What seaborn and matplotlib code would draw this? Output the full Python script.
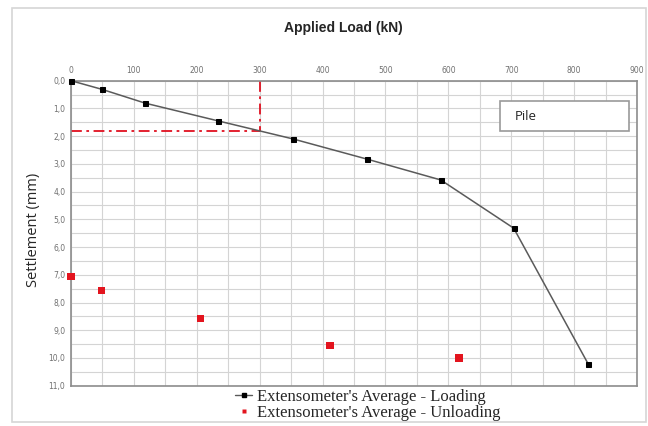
import pandas as pd
import numpy as np
import matplotlib
matplotlib.use('Agg')
import matplotlib.pyplot as plt
import seaborn as sns
from matplotlib.lines import Line2D
from matplotlib.patches import Rectangle

# data
load_kn = [0, 49, 118, 234, 353, 471, 588, 704, 822]
settle_load = [0.0, 0.31, 0.81, 1.45, 2.1, 2.83, 3.58, 5.32, 10.2]
unload_kn = [0, 49, 206, 412, 617]
settle_unload = [7.05, 7.57, 8.57, 9.54, 10.0]
ref_load = [300, 300]
ref_settle = [1.8, 1.8]

x_ticks = list(range(0, 901, 100))
y_ticks = list(range(0, 12))
y_labels = ['%d,0' % v for v in y_ticks]

df_load = pd.DataFrame({'load': load_kn, 'settle': settle_load})
df_unload = pd.DataFrame({'load': unload_kn, 'settle': settle_unload})

sns.set_style('white')
plt.rcParams['font.family'] = ['DejaVu Sans']

fig = plt.figure(figsize=(6.48, 4.26), dpi=100)
ax = fig.add_axes([71/648, 1-385.7/426, (637-71)/648, (385.7-80.7)/426])

# grid every 50 kN / 0.5 mm
ax.set_xticks(np.arange(0, 901, 50), minor=True)
ax.set_yticks(np.arange(0, 11.01, 0.5), minor=True)
ax.grid(True, which='both', color='#d4d4d4', lw=0.8)
ax.set_axisbelow(True)

sns.lineplot(data=df_load, x='load', y='settle', ax=ax, color='#5a5a5a', lw=1.1,
             marker='s', markersize=3.6, markerfacecolor='black', markeredgecolor='black',
             sort=False, zorder=3, clip_on=False)
sns.scatterplot(data=df_unload, x='load', y='settle', ax=ax, color='#e3141e', marker='s',
                s=27, edgecolor='none', zorder=3, clip_on=False)

# reference lines at 300 kN
ax.plot([ref_load[0], ref_load[1]], [0, ref_settle[0]], color='#e01020', lw=1.3,
        ls=(0, (6, 2.5, 1.5, 2.5)), zorder=2)
ax.plot([0, ref_load[0]], [ref_settle[0], ref_settle[1]], color='#e01020', lw=1.3,
        ls=(0, (6, 2.5, 1.5, 2.5)), zorder=2)

ax.set_xlim(0, 900)
ax.set_ylim(11, 0)
ax.xaxis.tick_top()
ax.set_xticks(x_ticks)
ax.set_xticklabels([str(v) for v in x_ticks])
ax.set_yticks(y_ticks)
ax.set_yticklabels(y_labels)
ax.tick_params(axis='both', which='both', length=0, labelsize=5.5, labelcolor='#707070', pad=4)
for s in ax.spines.values():
    s.set_color('#8c8c8c')
    s.set_linewidth(1.2)
ax.set_xlabel('')
ax.set_ylabel('')

fig.text(343/648, 1-28/426, 'Applied Load (kN)', ha='center', va='center',
         fontsize=10, fontweight='bold', family='Liberation Sans')
fig.text(33/648, 1-230/426, 'Settlement (mm)', rotation=90, ha='center', va='center',
         fontsize=10.5, family='Open Sans')

# Pile box
ax.add_patch(Rectangle((500/648, 1-131/426), 129/648, 30/426, transform=fig.transFigure,
                       facecolor='white', edgecolor='#9a9a9a', lw=1.2, zorder=5, clip_on=False))
fig.text(515/648, 1-116/426, 'Pile', ha='left', va='center', fontsize=9.5, family='Open Sans')

# outer frame
fig.patches.append(Rectangle((12/648, 1-422/426), 634/648, 414/426, transform=fig.transFigure,
                             facecolor='none', edgecolor='#d6d6d6', lw=1.2))

handles = [Line2D([], [], color='#5a5a5a', lw=1, marker='s', markersize=3,
                  markerfacecolor='black', markeredgecolor='black'),
           Line2D([], [], color='none', marker='s', markersize=3.5,
                  markerfacecolor='#e3141e', markeredgecolor='none')]
fig.legend(handles, ["Extensometer's Average - Loading", "Extensometer's Average - Unloading"],
           loc='center', bbox_to_anchor=(368/648, 1-405/426), frameon=False,
           prop={'family': 'Liberation Serif', 'size': 12}, handlelength=1.0,
           handletextpad=0.3, labelspacing=0.0, borderpad=0)

fig.savefig('out.png', dpi=100)
plt.close()
